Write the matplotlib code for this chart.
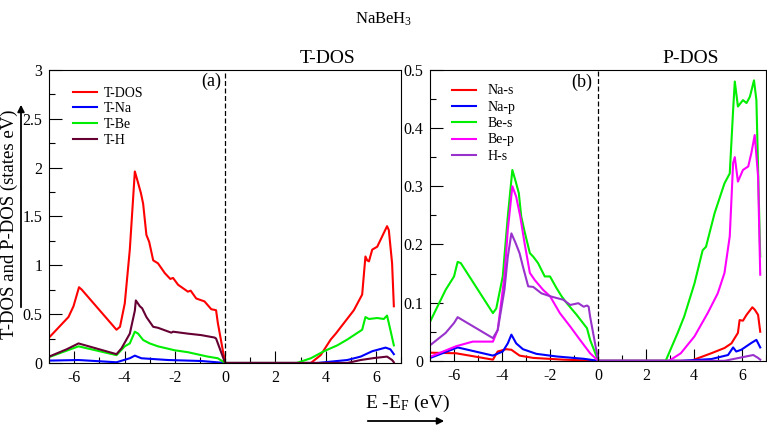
import numpy as np
import matplotlib
matplotlib.use("Agg")
import matplotlib.pyplot as plt
from matplotlib.ticker import MultipleLocator
from matplotlib.patches import FancyArrowPatch

plt.rcParams['font.family'] = ['Liberation Serif', 'DejaVu Serif']
plt.rcParams['mathtext.fontset'] = 'custom'
plt.rcParams['mathtext.rm'] = 'Liberation Serif'
plt.rcParams['mathtext.it'] = 'Liberation Serif:italic'
plt.rcParams['axes.unicode_minus'] = False

# ---- (a) total DOS ----
tdos_e = [-7.0, -6.23, -6.03, -5.81, -5.70, -4.32, -4.18, -3.99, -3.79, -3.59, -3.49, -3.35, -3.26,
          -3.13, -3.02, -2.86, -2.67, -2.40, -2.18, -2.07, -1.87, -1.48, -1.37, -1.15, -0.82, -0.55,
          -0.36, -0.29, 0.0, 3.41, 3.80, 4.20, 4.40, 4.73, 5.12, 5.45, 5.58, 5.65, 5.72, 5.85, 6.05,
          6.44, 6.51, 6.64, 6.71]
tdos_v = [0.26, 0.47, 0.58, 0.775, 0.75, 0.34, 0.37, 0.61, 1.16, 1.96, 1.87, 1.74, 1.63,
          1.31, 1.24, 1.05, 1.02, 0.92, 0.86, 0.87, 0.80, 0.73, 0.74, 0.66, 0.63, 0.55,
          0.54, 0.41, 0.0, 0.0, 0.08, 0.24, 0.30, 0.41, 0.54, 0.70, 1.09, 1.05, 1.04, 1.16, 1.19,
          1.40, 1.36, 1.02, 0.58]

tna_e = [-7.0, -5.83, -4.32, -3.79, -3.59, -3.33, -2.27, -0.95, 0.0, 3.67, 4.86, 5.39, 5.85, 6.38,
         6.57, 6.71]
tna_v = [0.024, 0.03, 0.007, 0.048, 0.075, 0.048, 0.03, 0.02, 0.0, 0.0, 0.03, 0.065, 0.12, 0.157,
         0.14, 0.09]

tbe_e = [-7.0, -5.83, -4.32, -3.99, -3.79, -3.59, -3.46, -3.26, -3.00, -2.67, -2.01, -1.48, -0.69,
         -0.29, 0.0, 2.85, 3.41, 3.93, 4.46, 4.86, 5.45, 5.58, 5.72, 6.05, 6.31, 6.44, 6.57, 6.71]
tbe_v = [0.06, 0.17, 0.08, 0.17, 0.20, 0.32, 0.30, 0.235, 0.20, 0.17, 0.13, 0.11, 0.065,
         0.048, 0.0, 0.0, 0.048, 0.12, 0.18, 0.24, 0.34, 0.47, 0.45, 0.46, 0.45, 0.485, 0.34, 0.18]

th_e = [-7.0, -6.30, -5.83, -4.32, -4.12, -3.79, -3.59, -3.55, -3.39, -3.30, -3.13, -2.86, -2.67,
        -2.14, -2.07, -1.48, -0.95, -0.42, -0.36, 0.0, 4.86, 5.39, 5.91, 6.44, 6.64, 6.71]
th_v = [0.065, 0.14, 0.20, 0.09, 0.15, 0.30, 0.535, 0.64, 0.58, 0.56, 0.47, 0.37, 0.36,
        0.31, 0.32, 0.30, 0.285, 0.26, 0.25, 0.0, 0.0, 0.03, 0.05, 0.065, 0.03, 0.007]

# ---- (b) partial DOS ----
nas_e = [-7.0, -5.93, -4.39, -4.19, -3.84, -3.62, -3.28, -2.71, -1.46, 0.0, 3.86, 4.71, 5.26,
         5.55, 5.82, 5.89, 6.03, 6.18, 6.42, 6.52, 6.66, 6.75]
nas_v = [0.014, 0.013, 0.002, 0.016, 0.02, 0.019, 0.009, 0.005, 0.002, 0.0, 0.0, 0.013, 0.022,
         0.03, 0.048, 0.07, 0.069, 0.079, 0.092, 0.088, 0.079, 0.05]

nap_e = [-7.0, -5.86, -4.39, -3.98, -3.77, -3.62, -3.42, -3.14, -2.58, -1.74, -0.61, 0.0, 3.44,
         4.71, 5.41, 5.62, 5.75, 5.96, 6.39, 6.59, 6.75]
nap_v = [0.005, 0.023, 0.009, 0.016, 0.03, 0.045, 0.03, 0.02, 0.012, 0.0075, 0.0035, 0.0, 0.0,
         0.003, 0.01, 0.023, 0.016, 0.019, 0.031, 0.036, 0.023]

bes_e = [-7.0, -6.36, -6.01, -5.86, -5.73, -4.39, -4.25, -3.98, -3.77, -3.58, -3.44, -3.31, -3.21,
         -3.07, -2.85, -2.71, -2.51, -2.23, -2.01, -1.74, -1.53, -1.31, -0.90, -0.47, -0.34, 0.0,
         2.81, 3.31, 3.58, 4.01, 4.35, 4.49, 4.85, 5.26, 5.48, 5.62, 5.69, 5.82, 6.03, 6.18, 6.32,
         6.49, 6.59, 6.75]
bes_v = [0.068, 0.122, 0.145, 0.17, 0.168, 0.082, 0.09, 0.145, 0.248, 0.328, 0.308, 0.288, 0.248,
         0.222, 0.185, 0.179, 0.168, 0.145, 0.145, 0.125, 0.111, 0.099, 0.079, 0.056, 0.036, 0.0,
         0.0, 0.048, 0.076, 0.133, 0.19, 0.196, 0.254, 0.305, 0.322, 0.431, 0.48, 0.437, 0.448,
         0.443, 0.454, 0.482, 0.448, 0.179]

bep_e = [-7.0, -5.93, -5.23, -4.39, -4.19, -3.91, -3.77, -3.58, -3.42, -3.25, -3.07, -2.85, -2.65,
         -2.30, -2.01, -1.60, -1.17, -0.76, -0.34, 0.0, 2.95, 3.44, 4.01, 4.56, 4.98, 5.26, 5.48,
         5.62, 5.69, 5.82, 6.03, 6.25, 6.38, 6.52, 6.66, 6.75]
bep_v = [0.007, 0.025, 0.033, 0.033, 0.053, 0.145, 0.225, 0.30, 0.282, 0.248, 0.202, 0.151, 0.139,
         0.122, 0.111, 0.082, 0.059, 0.036, 0.013, 0.0, 0.0, 0.013, 0.042, 0.082, 0.116, 0.151,
         0.214, 0.34, 0.35, 0.308, 0.328, 0.334, 0.357, 0.388, 0.317, 0.148]

hs_e = [-7.0, -6.36, -6.01, -5.86, -4.39, -4.19, -3.91, -3.77, -3.62, -3.44, -3.28, -3.14, -2.92,
        -2.71, -2.37, -2.15, -2.01, -1.74, -1.46, -1.17, -0.83, -0.61, -0.47, -0.40, -0.34, 0.0,
        5.26, 6.10, 6.46, 6.66, 6.75]
hs_v = [0.027, 0.048, 0.065, 0.075, 0.039, 0.053, 0.122, 0.179, 0.219, 0.202, 0.185, 0.162, 0.128,
        0.127, 0.116, 0.113, 0.111, 0.108, 0.105, 0.096, 0.099, 0.093, 0.095, 0.093, 0.076, 0.0,
        0.0, 0.007, 0.010, 0.005, 0.002]

fig = plt.figure(figsize=(7.67, 4.26), dpi=100)
ax1 = fig.add_axes([0.064, 0.148, 0.459, 0.688])
ax2 = fig.add_axes([0.561, 0.153, 0.438, 0.683])

lw = 1.5
ax1.plot(tdos_e, tdos_v, color='#ff0000', lw=lw, label='T-DOS')
ax1.plot(tna_e, tna_v, color='#0000ff', lw=lw, label='T-Na')
ax1.plot(tbe_e, tbe_v, color='#00ee00', lw=lw, label='T-Be')
ax1.plot(th_e, th_v, color='#660033', lw=lw, label='T-H')

ax2.plot(nas_e, nas_v, color='#ff0000', lw=lw, label='Na-s')
ax2.plot(nap_e, nap_v, color='#0000ff', lw=lw, label='Na-p')
ax2.plot(bes_e, bes_v, color='#00ee00', lw=lw, label='Be-s')
ax2.plot(bep_e, bep_v, color='#ff00ff', lw=lw, label='Be-p')
ax2.plot(hs_e, hs_v, color='#9932cc', lw=lw, label='H-s')

for ax, ymax, major, minor in [(ax1, 3, 0.5, 0.25), (ax2, 0.5, 0.1, 0.05)]:
    ax.set_xlim(-7, 7)
    ax.set_ylim(0, ymax)
    ax.axvline(0, color='black', lw=0.9, ls=(0, (4, 2)))
    ax.xaxis.set_major_locator(MultipleLocator(2))
    ax.xaxis.set_minor_locator(MultipleLocator(1))
    ax.yaxis.set_major_locator(MultipleLocator(major))
    ax.yaxis.set_minor_locator(MultipleLocator(minor))
    ax.tick_params(which='major', direction='in', length=9, width=0.8, labelsize=11.5, pad=5)
    ax.tick_params(which='minor', direction='in', length=4, width=0.8)
    ax.yaxis.set_major_formatter(plt.FuncFormatter(lambda v, p: ('%g' % v)))
    for s in ax.spines.values():
        s.set_linewidth(0.8)

ax1.legend(loc='upper left', bbox_to_anchor=(0.068, 0.943), frameon=False, fontsize=10,
           borderpad=0, borderaxespad=0, handlelength=1.75, handletextpad=0.5, labelspacing=0.2)
ax2.legend(loc='upper left', bbox_to_anchor=(0.065, 0.95), frameon=False, fontsize=10,
           borderpad=0, borderaxespad=0, handlelength=1.75, handletextpad=0.8, labelspacing=0.24)

ax1.text(0.79, 1.01, 'T-DOS', transform=ax1.transAxes, ha='center', va='bottom', fontsize=14)
ax2.text(0.774, 1.01, 'P-DOS', transform=ax2.transAxes, ha='center', va='bottom', fontsize=14)
ax1.text(0.46, 0.96, '(a)', transform=ax1.transAxes, ha='center', va='center', fontsize=13)
ax2.text(0.452, 0.958, '(b)', transform=ax2.transAxes, ha='center', va='center', fontsize=13)

fig.text(0.5, 0.955, r'$\mathregular{NaBeH_3}$', ha='center', va='center', fontsize=12)
fig.text(0.531, 0.054, r'E -E$_\mathregular{F}$ (eV)', ha='center', va='center', fontsize=14)
fig.text(0.0125, 0.474, 'T-DOS and P-DOS (states eV)', rotation=90, ha='center', va='center',
         fontsize=13.5)

fig.add_artist(FancyArrowPatch((365 / 767, 1 - 421 / 426), (447 / 767, 1 - 421 / 426),
                               transform=fig.transFigure, arrowstyle='-|>',
                               mutation_scale=10, lw=1.3, color='black'))
fig.add_artist(FancyArrowPatch((21 / 767, 1 - 310 / 426), (21 / 767, 1 - 102 / 426),
                               transform=fig.transFigure, arrowstyle='-|>',
                               mutation_scale=10, lw=1.3, color='black'))

fig.savefig('out.png', dpi=100)
